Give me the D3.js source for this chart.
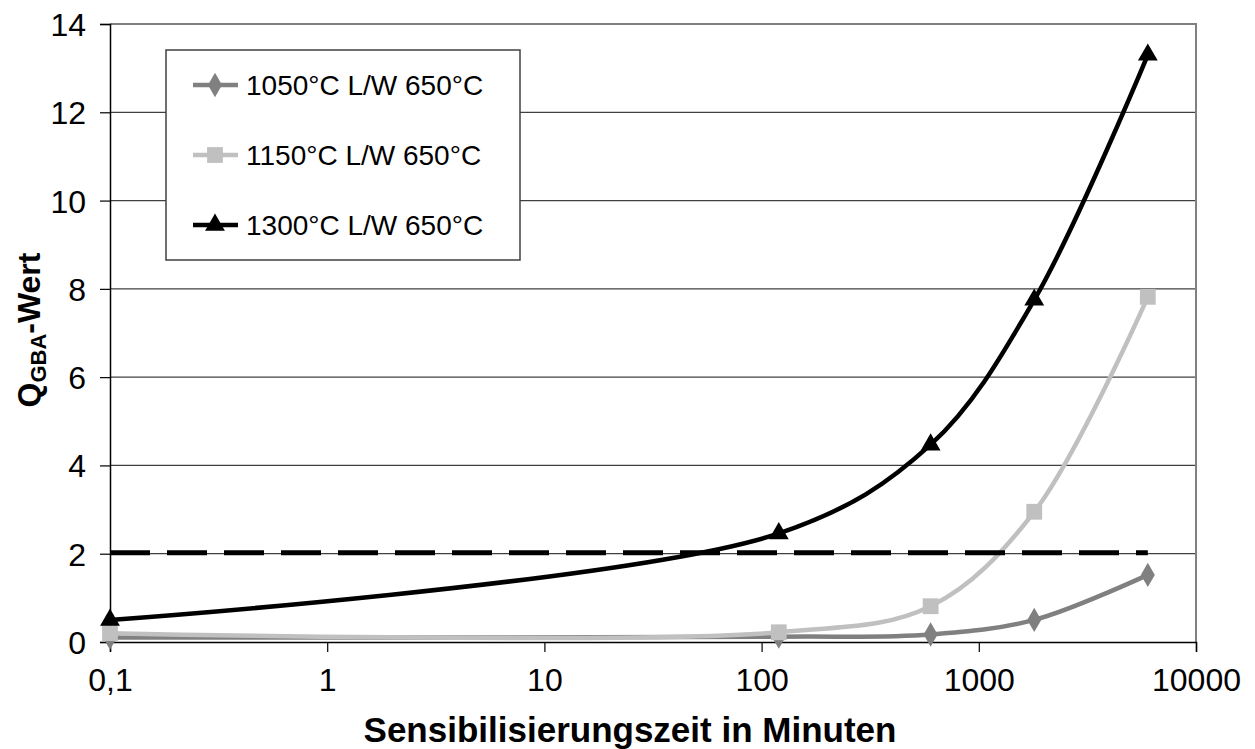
<!DOCTYPE html>
<html>
<head>
<meta charset="utf-8">
<script src="https://cdn.jsdelivr.net/npm/d3@7"></script>
<style>
  body { margin: 0; background: #fff; }
  svg text { font-family: "Liberation Sans", Arial, sans-serif; }
</style>
</head>
<body>
<svg id="chart" width="1255" height="749"></svg>
<script>
// data
var times = [0.1, 120, 600, 1800, 6000];
var q1050 = [0.1, 0.12, 0.17, 0.5, 1.52];
var q1150 = [0.2, 0.22, 0.81, 2.95, 7.82];
var q1300 = [0.5, 2.46, 4.47, 7.75, 13.3];
var limitX = [0.1, 6000];
var limitY = [2.02, 2.02];
var xTicks = [0.1, 1, 10, 100, 1000, 10000];
var xTickLabels = ['0,1', '1', '10', '100', '1000', '10000'];
var yTicks = [0, 2, 4, 6, 8, 10, 12, 14];
var seriesNames = ['1050°C L/W 650°C', '1150°C L/W 650°C', '1300°C L/W 650°C'];

var series = [
  {name: seriesNames[0], values: q1050, color: '#808080', symbol: d3.symbolDiamond, size: 170},
  {name: seriesNames[1], values: q1150, color: '#c0c0c0', symbol: d3.symbolSquare, size: 250},
  {name: seriesNames[2], values: q1300, color: '#000000', symbol: d3.symbolTriangle, size: 170}
];

var svg = d3.select('#chart');
var pLeft = 110, pRight = 1196, pTop = 24, pBottom = 642;

var x = d3.scaleLog().domain([0.1, 10000]).range([pLeft, pRight]);
var y = d3.scaleLinear().domain([0, 14]).range([pBottom, pTop]);

// gridlines
svg.append('g').selectAll('line')
    .data(yTicks.filter(function(d) { return d > 0 && d < 14; }))
    .enter().append('line')
    .attr('x1', pLeft).attr('x2', pRight)
    .attr('y1', function(d) { return y(d); })
    .attr('y2', function(d) { return y(d); })
    .attr('stroke', '#404040').attr('stroke-width', 1.2);

// frame (top / right are gray)
svg.append('path')
    .attr('d', 'M' + pLeft + ',' + y(14) + 'H' + pRight + 'V' + y(0))
    .attr('fill', 'none').attr('stroke', '#808080').attr('stroke-width', 2);

// axes
var yAxis = d3.axisLeft(y).tickValues(yTicks).tickSize(10).tickPadding(14)
    .tickFormat(d3.format('d'));
var gy = svg.append('g').attr('transform', 'translate(' + pLeft + ',0)').call(yAxis);

var xAxis = d3.axisBottom(x).tickValues(xTicks).tickSize(10).tickPadding(16)
    .tickFormat(function(d, i) { return xTickLabels[i]; });
var gx = svg.append('g').attr('transform', 'translate(0,' + pBottom + ')').call(xAxis);

[gx, gy].forEach(function(g) {
  g.select('.domain').attr('stroke', '#000').attr('stroke-width', 1.5);
  g.selectAll('.tick line').attr('stroke', '#000').attr('stroke-width', 1.2);
  g.selectAll('.tick text').attr('fill', '#000')
      .style('font-size', '32px').style('font-family', '"Liberation Sans", Arial, sans-serif');
});
gy.selectAll('.tick text').attr('dy', '0.36em');
gx.selectAll('.tick text').attr('dy', '0.72em');

// series lines
var line = d3.line()
    .x(function(d) { return x(d[0]); })
    .y(function(d) { return y(d[1]); })
    .curve(d3.curveCatmullRom.alpha(0.5));

series.forEach(function(s) {
  var pts = times.map(function(t, i) { return [t, s.values[i]]; });
  svg.append('path')
      .datum(pts)
      .attr('d', line)
      .attr('fill', 'none')
      .attr('stroke', s.color)
      .attr('stroke-width', 4.5);
});

// limit line Q = 2
svg.append('line')
    .attr('x1', x(limitX[0])).attr('x2', x(limitX[1]))
    .attr('y1', y(limitY[0])).attr('y2', y(limitY[1]))
    .attr('stroke', '#000').attr('stroke-width', 5)
    .attr('stroke-dasharray', '40,17');

// markers
series.forEach(function(s) {
  svg.append('g').selectAll('path')
      .data(times.map(function(t, i) { return [t, s.values[i]]; }))
      .enter().append('path')
      .attr('d', d3.symbol().type(s.symbol).size(s.size))
      .attr('transform', function(d) {
        return 'translate(' + x(d[0]) + ',' + y(d[1]) + ')';
      })
      .attr('fill', s.color);
});

// legend
var leg = svg.append('g');
leg.append('rect')
    .attr('x', 166).attr('y', 50).attr('width', 354).attr('height', 210)
    .attr('fill', '#fff').attr('stroke', '#404040').attr('stroke-width', 1.5);
series.forEach(function(s, i) {
  var cy = 85 + i * 70;
  leg.append('line')
      .attr('x1', 193).attr('x2', 238).attr('y1', cy).attr('y2', cy)
      .attr('stroke', s.color).attr('stroke-width', 4.5);
  leg.append('path')
      .attr('d', d3.symbol().type(s.symbol).size(s.size))
      .attr('transform', 'translate(215,' + cy + ')')
      .attr('fill', s.color);
  leg.append('text')
      .attr('x', 246).attr('y', cy).attr('dy', '0.36em')
      .style('font-size', '28px')
      .text(s.name);
});

// axis titles
svg.append('text')
    .attr('x', 630).attr('y', 742)
    .attr('text-anchor', 'middle')
    .style('font-size', '35px').style('font-weight', 'bold')
    .text('Sensibilisierungszeit in Minuten');

var yt = svg.append('text')
    .attr('transform', 'translate(40,330) rotate(-90)')
    .attr('text-anchor', 'middle')
    .style('font-size', '32px').style('font-weight', 'bold');
yt.append('tspan').text('Q');
yt.append('tspan').attr('dy', 6).style('font-size', '22px').text('GBA');
yt.append('tspan').attr('dy', -6).text('-Wert');
</script>
</body>
</html>
